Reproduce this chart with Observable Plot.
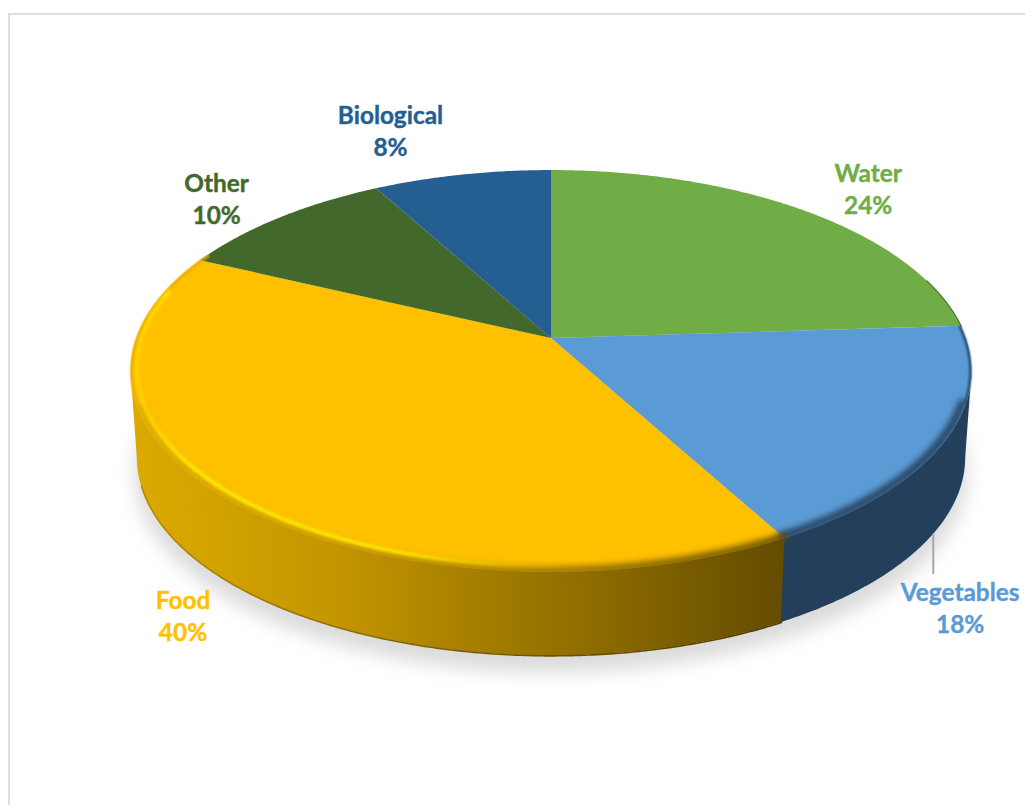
<!DOCTYPE html>
<html>
<head>
<meta charset="utf-8">
<script src="https://cdn.jsdelivr.net/npm/d3@7"></script>
<script src="https://cdn.jsdelivr.net/npm/@observablehq/plot@0.6"></script>
<style>
  html, body { margin: 0; padding: 0; background: #fff; overflow: hidden; }
  #sheet { position: relative; width: 1025px; height: 805px; overflow: hidden; }
  #sheet .border { position: absolute; left: 8px; top: 13px; width: 1100px; height: 900px; border: 2px solid #dedede; }
  #sheet svg { position: absolute; left: 0; top: 0; }
</style>
</head>
<body>
<div id="sheet"><div class="border"></div></div>
<script>
// Waste composition, percent of the total
const categories = ["Water", "Vegetables", "Food", "Other", "Biological"];
const shares = [24, 18, 40, 10, 8];
const sliceColors = ["#70AD47", "#5B9BD5", "#FFC000", "#43682B", "#255E91"];

// Label offsets from each slice's rim point, in pixels
const labelDx = [63, 14, -46, -63, -72];
const labelDy = [-23, 166, 114, -20, -45];

// Tilted-disc projection: one chart unit is the disc radius in pixels
const radiusPx = 414.8;
const flatten = 195.5 / radiusPx;
const perspective = 0.164;
const wallDrop = 87 / radiusPx;
const wallShrink = 0.985;
const px = (n) => n / radiusPx;

function project(turn, r = 1, lift = 0) {
  const u = r * Math.sin(turn);
  const v = -r * Math.cos(turn);
  const w = 1 - perspective * v;
  const s = 1 - lift * (1 - wallShrink);
  return {x: (s * u) / w, y: (s * flatten * v) / w + lift * wallDrop};
}

const deg = Math.PI / 180;
const sweep = (a, b, step = 0.5 * deg) => {
  const n = Math.ceil((b - a) / step);
  return d3.range(n + 1).map((i) => a + ((b - a) * i) / n);
};

// Slice boundaries in radians, clockwise from twelve o'clock
let running = 0;
const slices = categories.map((category, i) => {
  const start = (running / 100) * 2 * Math.PI;
  running += shares[i];
  const end = (running / 100) * 2 * Math.PI;
  return {category, share: shares[i], start, end, mid: (start + end) / 2};
});
const veg = slices[1];
const food = slices[2];
const sideRight = Math.acos(-perspective);
const sideLeft = 2 * Math.PI - sideRight;

const faceRows = slices.flatMap((s) =>
  sweep(s.start, s.end).map((t) => {
    const p = project(t);
    return {category: s.category, x: p.x, y: p.y};
  })
);
const band = (a, b) =>
  sweep(a, b).map((t) => {
    const top = project(t);
    const bottom = project(t, 1, 1);
    return {x1: top.x, y1: top.y, x2: bottom.x, y2: bottom.y};
  });
const arc = (a, b, r = 1, lift = 0) => sweep(a, b).map((t) => project(t, r, lift));
const shadowRows = sweep(0, 2 * Math.PI).map((t) => project(t, 1.008, 1.18));

// Gradients shared by the side wall and the bevel
function gradients() {
  const defs = d3.create("svg:defs");
  const linear = (id, stops) => {
    const g = defs.append("linearGradient").attr("id", id);
    stops.forEach(([offset, color, opacity = 1]) =>
      g.append("stop").attr("offset", offset).attr("stop-color", color).attr("stop-opacity", opacity)
    );
  };
  linear("foodWall", [[0, "#dcaa00"], [0.3, "#c59700"], [0.65, "#957200"], [0.88, "#755900"], [1, "#654c00"]]);
  linear("foodFoot", [[0, "#b68a00"], [0.5, "#7a5c00"], [1, "#4f3b00"]]);
  linear("foodGlint", [[0, "#ffe000", 0.6], [0.12, "#ffea00", 1], [0.62, "#ffe800", 1], [1, "#ffd000", 0]]);
  return defs.node();
}

const slicesLabelled = slices.map((s, i) => {
  const p = project(s.mid);
  return {...s, x: p.x, y: p.y, dx: labelDx[i], dy: labelDy[i], text: `${s.category}\n${s.share}%`};
});
const leaderFoot = project(veg.mid, 1, 1);

const chart = Plot.plot({
  width: 1025,
  height: 805,
  margin: 0,
  axis: null,
  style: {background: "transparent"},
  x: {domain: [-551 / radiusPx, (1025 - 551) / radiusPx], range: [0, 1025]},
  y: {domain: [-338 / radiusPx, (805 - 338) / radiusPx], range: [0, 805]},
  color: {domain: categories, range: sliceColors},
  marks: [
    gradients,
    // soft ground shadow
    Plot.area(shadowRows, {x1: 0, y1: 0.2, x2: "x", y2: "y", fill: "#9a9a9a", fillOpacity: 0.36, imageFilter: "blur(9px)"}),
    // side wall
    Plot.area(band(sideRight, veg.end + 0.3 * deg), {x1: "x1", y1: "y1", x2: "x2", y2: "y2", fill: "#243f5b"}),
    Plot.area(band(food.start, sideLeft), {x1: "x1", y1: "y1", x2: "x2", y2: "y2", fill: "url(#foodWall)"}),
    Plot.line(arc(food.start, sideLeft - 8 * deg, 1, 1), {x: "x", y: "y", stroke: "url(#foodFoot)", strokeWidth: 1.6, imageFilter: "blur(0.6px)"}),
    // top face
    Plot.area(faceRows, {x1: 0, y1: 0, x2: "x", y2: "y", z: "category", fill: "category"}),
    // bevel along the front rim
    Plot.line(arc(72 * deg, slices[0].end), {x: "x", y: "y", stroke: "#4a7431", strokeWidth: 1.2, imageFilter: "blur(0.5px)"}),
    Plot.line(arc(slices[0].end, sideRight + 9 * deg, 0.996), {x: "x", y: "y", stroke: "#243f5b", strokeWidth: 2.2, imageFilter: "blur(1px)"}),
    Plot.line(arc(sideRight + 9 * deg, veg.end, 0.99), {x: "x", y: "y", stroke: "#243f5b", strokeWidth: 8, imageFilter: "blur(3px)"}),
    Plot.line(arc(food.start, sideLeft - 10 * deg, 0.994), {x: "x", y: "y", stroke: "url(#foodWall)", strokeWidth: 8, imageFilter: "blur(3px)"}),
    Plot.line(arc(sideLeft - 10 * deg, 297 * deg, 0.998), {x: "x", y: "y", stroke: "#e9ac00", strokeWidth: 2.5, imageFilter: "blur(1px)"}),
    Plot.line(arc(178 * deg, 284 * deg, 0.986, -0.03), {x: "x", y: "y", stroke: "url(#foodGlint)", strokeWidth: 4, imageFilter: "blur(1.5px)"}),
    // leader line for the Vegetables label
    Plot.line(
      [leaderFoot, leaderFoot].map((p, i) => ({x: p.x, y: p.y + px(i ? 47 : 8)})),
      {x: "x", y: "y", dx: -7, stroke: "#a6a6a6", strokeWidth: 2}
    ),
    // data labels
    ...slicesLabelled.map((d) =>
      Plot.text([d], {
        x: "x",
        y: "y",
        dx: d.dx,
        dy: d.dy,
        text: "text",
        fill: "category",
        stroke: "category",
        strokeWidth: 0.4,
        fontFamily: "Lato",
        fontWeight: 700,
        fontSize: 24.4,
        lineHeight: 1.31,
        textAnchor: "middle"
      })
    )
  ]
});
document.getElementById("sheet").appendChild(chart);
</script>
</body>
</html>
